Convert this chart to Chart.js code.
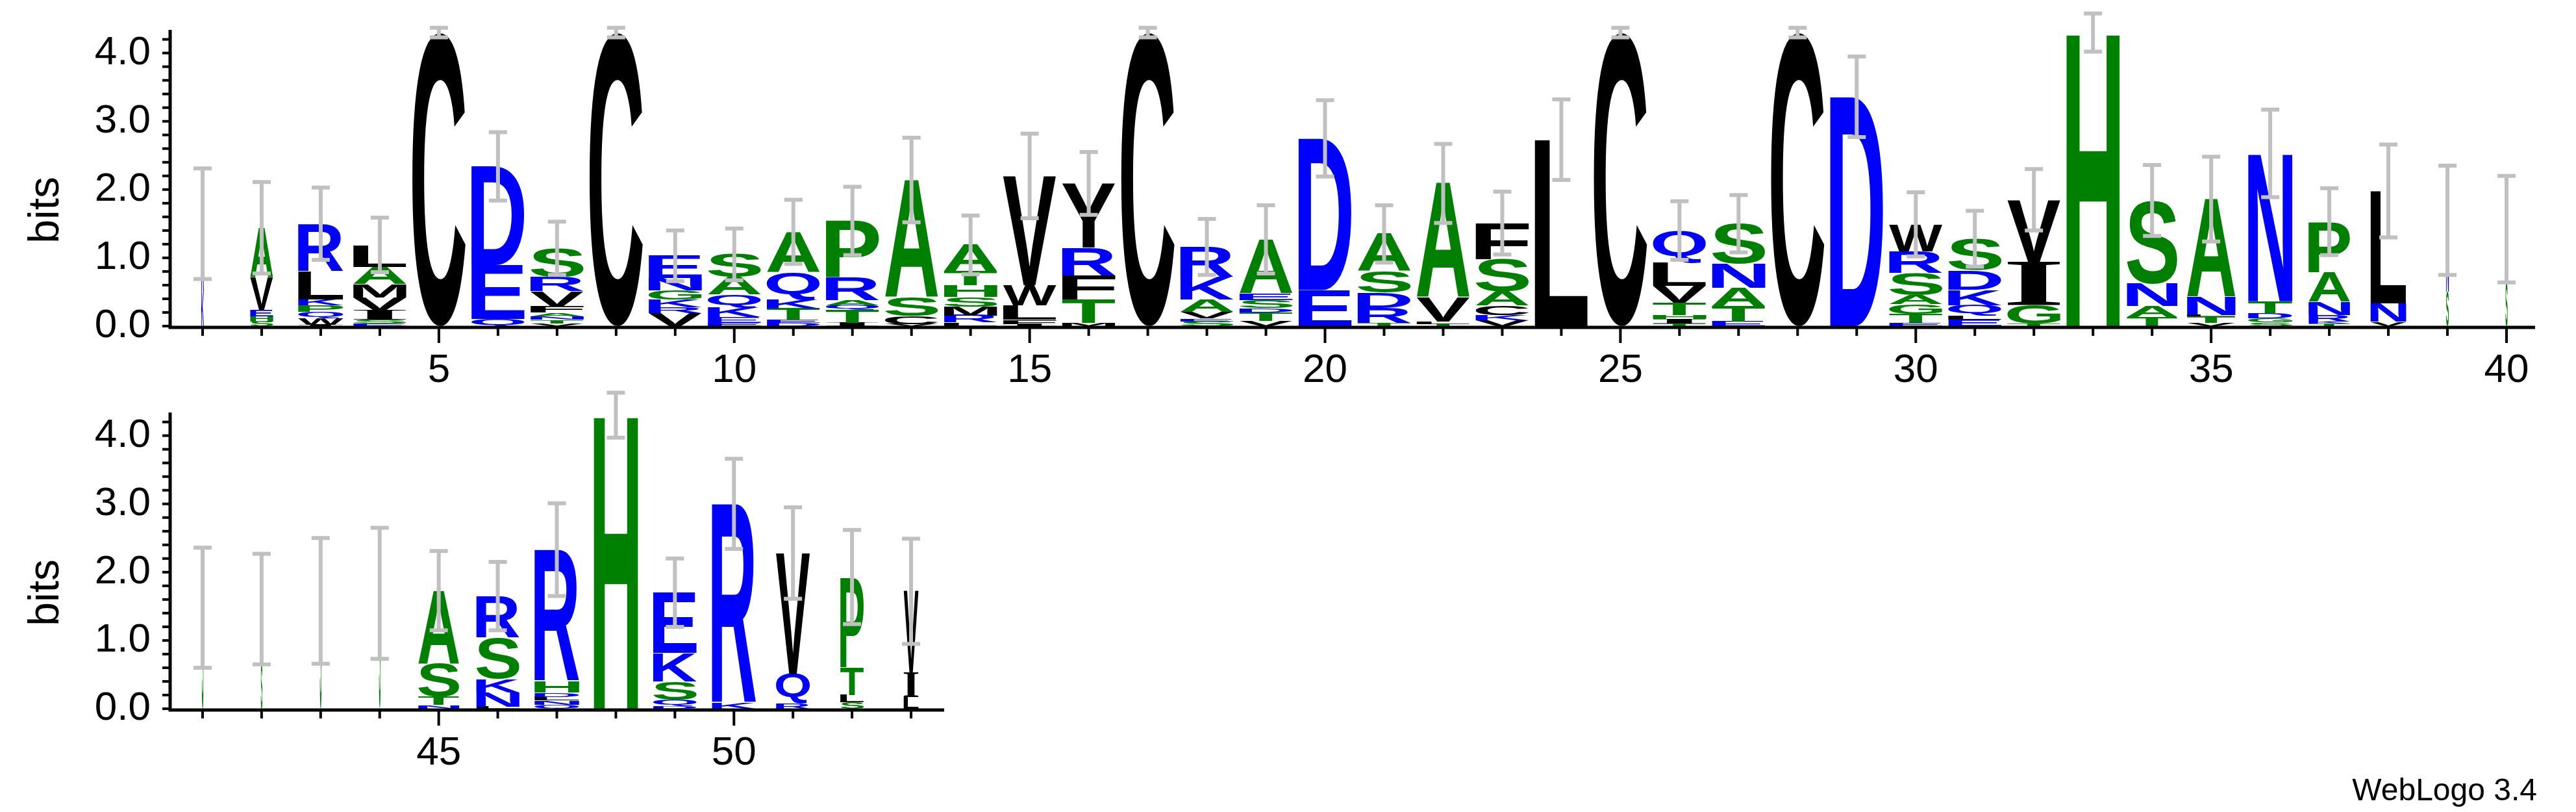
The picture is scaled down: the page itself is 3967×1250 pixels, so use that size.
<!DOCTYPE html>
<html><head><meta charset="utf-8">
<script src="https://cdn.jsdelivr.net/npm/chart.js@4"></script>
<style>html,body{margin:0;padding:0;background:#fff;width:3967px;height:1250px;overflow:hidden}
.w{position:absolute;left:0;width:3967px}
#credit{position:absolute;right:60px;top:1188px;line-height:1;font:48px "Liberation Sans",Arial,sans-serif;color:#000}</style>
</head><body>
<div class="w" style="top:0;height:600px"><canvas id="c1"></canvas></div>
<div class="w" style="top:600px;height:650px"><canvas id="c2"></canvas></div>
<div id="credit">WebLogo 3.4</div>
<script>
// position numbers
const positions = Array.from({length:53},(_,i)=>i+1);
// letters per position, bottom to top
const letters = ["KR","SHEVA","IWQPKLR","ESIVMAL","C","QED","VTNAFVRS","C","VRKGNE","EEKQAS",
"DETKQA","ITQARP","VCSA","LRMSHTA","IFLWV","MTFRY","C","SEVAKR","VTDSEA","ED",
"TRDSA","TLVA","VKCASF","L","C","TIHTVLQ","ETANS","C","D","ETGASRW",
"ELQKDS","TGIV","H","TANS","VTLNA","SGDTN","TKRNAP","VNL","SN","SN",
"S","SN","S","S","NTSA","LNKSR","QNLDHR","H","DQSKE","KR","RQV","SLTP","LIV"];
// relative letter heights, bottom to top
const shares = [[.5,1],[.06,.07,.08,.42,.64],[.02,.08,.08,.08,.08,.36,.6],[.03,.05,.12,.17,.17,.22,.28],[1],[.1,.76,1.4],[.03,.04,.04,.04,.07,.17,.16,.32],[1],[.14,.06,.08,.1,.13,.24],[.03,.06,.1,.13,.18,.23],
[.04,.04,.14,.11,.34,.5],[.04,.16,.06,.06,.28,.7],[.03,.11,.26,1.63],[.04,.08,.1,.11,.13,.16,.3],[.03,.06,.19,.27,1.46],[.04,.32,.33,.38,.88],[1],[.05,.03,.07,.13,.24,.32],[.06,.1,.05,.09,.08,.62],[.52,2.19],
[.04,.19,.19,.27,.47],[.03,.03,.33,1.59],[.07,.06,.11,.16,.38,.42],[1],[1],[.03,.06,.05,.15,.21,.29,.4],[.06,.2,.23,.31,.51],[1],[1],[.04,.11,.12,.11,.27,.27,.33],
[.08,.05,.13,.19,.24,.39],[.03,.28,.65,.92],[1],[.12,.15,.3,1.11],[.04,.09,.02,.24,1.3],[.05,.06,.07,.16,2.02],[.03,.03,.08,.17,.37,.64],[.06,.26,1.57],[.49,1.02],[.63,.8],
[1],[.65,.8],[1],[1],[.05,.11,.46,1.0],[.03,.19,.18,.55,.55],[.05,.06,.05,.06,.15,1.76],[1],[.03,.09,.24,.38,.8],[.08,2.88],[.07,.42,1.7],[.09,.1,.38,1.23],[.16,.33,1.13]];
// stack height (bits)
const totals = [1.5,1.44,1.5,1.19,4.3,2.34,1.14,4.3,1.03,1.05,
1.38,1.54,2.14,1.19,2.2,2.09,4.3,1.16,1.27,2.75,
1.35,2.09,1.51,2.73,4.3,1.4,1.5,4.3,3.36,1.49,
1.28,1.85,4.3,1.84,1.86,2.53,1.53,1.98,1.55,1.42,
1.48,1.46,1.58,1.69,1.73,1.65,2.33,4.3,1.7,3.0,2.28,1.93,1.72];
// error bar half-size (bits)
const errors = [.81,.67,.53,.40,.07,.5,.39,.07,.37,.38,
.47,.5,.62,.43,.62,.46,.07,.41,.5,.56,
.42,.58,.46,.59,.07,.43,.42,.07,.59,.47,
.41,.45,.28,.52,.62,.64,.49,.68,.8,.78,
.88,.81,.92,.96,.58,.5,.68,.33,.5,.66,.67,.69,.77];
// relative column weight (width)
const weights = [.05,.43,.85,1,1,1,1,1,1,1,
1,1,1,1,1,1,1,1,1,1,
1,1,1,1,1,1,1,1,1,1,
1,1,1,.95,.91,.83,.78,.67,.05,.04,
.03,.03,.03,.03,.77,.81,.84,.83,.82,.83,.64,.44,.28];
const yTicks = [0,1,2,3,4];

const GREEN="AGHPST", BLUE="DEKNQR";
function colorOf(ch){return GREEN.includes(ch)?"#008000":BLUE.includes(ch)?"#0000ff":"#000000";}
const FONT='bold 200px "Liberation Sans", Arial, sans-serif';
const FONT_I='bold 200px "Liberation Serif", serif';

function logoPlugin(lo,hi){
 return {id:'logo'+lo, afterDraw(chart){
  const ctx=chart.ctx, xs=chart.scales.x, ys=chart.scales.y, ca=chart.chartArea;
  const step=xs.getPixelForValue(2)-xs.getPixelForValue(1);
  const y0=ys.getPixelForValue(0);
  ctx.save();
  for(let p=lo;p<=hi;p++){
   const i=p-1, cx=xs.getPixelForValue(p);
   const w=step*0.9*weights[i];
   const s=shares[i], sum=s.reduce((a,b)=>a+b,0);
   let acc=0;
   ctx.textAlign='left'; ctx.textBaseline='alphabetic';
   for(let k=0;k<letters[i].length;k++){
    const ch=letters[i][k];
    ctx.font= ch==='I'?FONT_I:FONT;
    const b0=acc, b1=acc+s[k]/sum*totals[i]; acc=b1;
    const yb=ys.getPixelForValue(b0), yt=ys.getPixelForValue(b1);
    const h=yb-yt; if(h<0.5) continue;
    const m=ctx.measureText(ch);
    const gw=m.actualBoundingBoxLeft+m.actualBoundingBoxRight, gh=m.actualBoundingBoxAscent+m.actualBoundingBoxDescent;
    ctx.save(); ctx.translate(cx-w/2,yt); ctx.scale(w/gw,h/gh);
    ctx.fillStyle=colorOf(ch); ctx.fillText(ch,m.actualBoundingBoxLeft,m.actualBoundingBoxAscent);
    ctx.restore();
   }
  }
  ctx.strokeStyle='#c0c0c0'; ctx.lineWidth=6;
  for(let p=lo;p<=hi;p++){
   const i=p-1, cx=xs.getPixelForValue(p);
   const a=ys.getPixelForValue(totals[i]-errors[i]), b=ys.getPixelForValue(totals[i]+errors[i]);
   ctx.beginPath(); ctx.moveTo(cx,a); ctx.lineTo(cx,b);
   ctx.moveTo(cx-14,a); ctx.lineTo(cx+14,a); ctx.moveTo(cx-14,b); ctx.lineTo(cx+14,b); ctx.stroke();
  }
  ctx.strokeStyle='#000'; ctx.lineWidth=5;
  ctx.beginPath(); ctx.moveTo(ca.left,ys.getPixelForValue(4.34)); ctx.lineTo(ca.left,y0+2); ctx.lineTo(ca.right,y0+2); ctx.stroke();
  ctx.lineWidth=4;
  ctx.fillStyle='#000'; ctx.font='62px "Liberation Sans", Arial, sans-serif';
  for(let v=0;v<=4.3;v+=0.2){
   const yy=ys.getPixelForValue(v);
   ctx.beginPath(); ctx.moveTo(ca.left,yy); ctx.lineTo(ca.left-12,yy); ctx.stroke();
  }
  ctx.textAlign='right'; ctx.textBaseline='middle';
  yTicks.forEach(v=>ctx.fillText(v.toFixed(1),ca.left-30,ys.getPixelForValue(v)));
  ctx.textAlign='center'; ctx.textBaseline='top';
  for(let p=lo;p<=hi;p++){
   const xx=xs.getPixelForValue(p), major=p%5===0;
   ctx.beginPath(); ctx.moveTo(xx,y0+4); ctx.lineTo(xx,y0+4+(major?22:11)); ctx.stroke();
   if(major) ctx.fillText(String(p),xx,y0+38);
  }
  ctx.font='66px "Liberation Sans", Arial, sans-serif';
  ctx.save(); ctx.translate(72,ys.getPixelForValue(1.7)); ctx.rotate(-Math.PI/2);
  ctx.textAlign='center'; ctx.textBaseline='middle'; ctx.fillText('bits',0,0); ctx.restore();
  ctx.restore();
 }};
}
function make(id,lo,hi,xmin,xmax,pad){
 const pts=[]; for(let p=lo;p<=hi;p++) pts.push({x:positions[p-1],y:totals[p-1]});
 new Chart(document.getElementById(id),{type:'scatter',
  data:{datasets:[{data:pts,pointRadius:0,showLine:false}]},
  options:{responsive:true,maintainAspectRatio:false,animation:false,devicePixelRatio:1,
   layout:{padding:pad},
   plugins:{legend:{display:false},tooltip:{enabled:false}},
   scales:{x:{type:'linear',min:xmin,max:xmax,display:false},y:{type:'linear',min:0,max:4.32,display:false}}},
  plugins:[logoPlugin(lo,hi)]});
}
make('c1',1,40,1-50/91,40+44/91,{left:262,right:63,top:48,bottom:98});
make('c2',41,53,41-50/91,53+51/91,{left:262,right:2513,top:37,bottom:159});
</script></body></html>
